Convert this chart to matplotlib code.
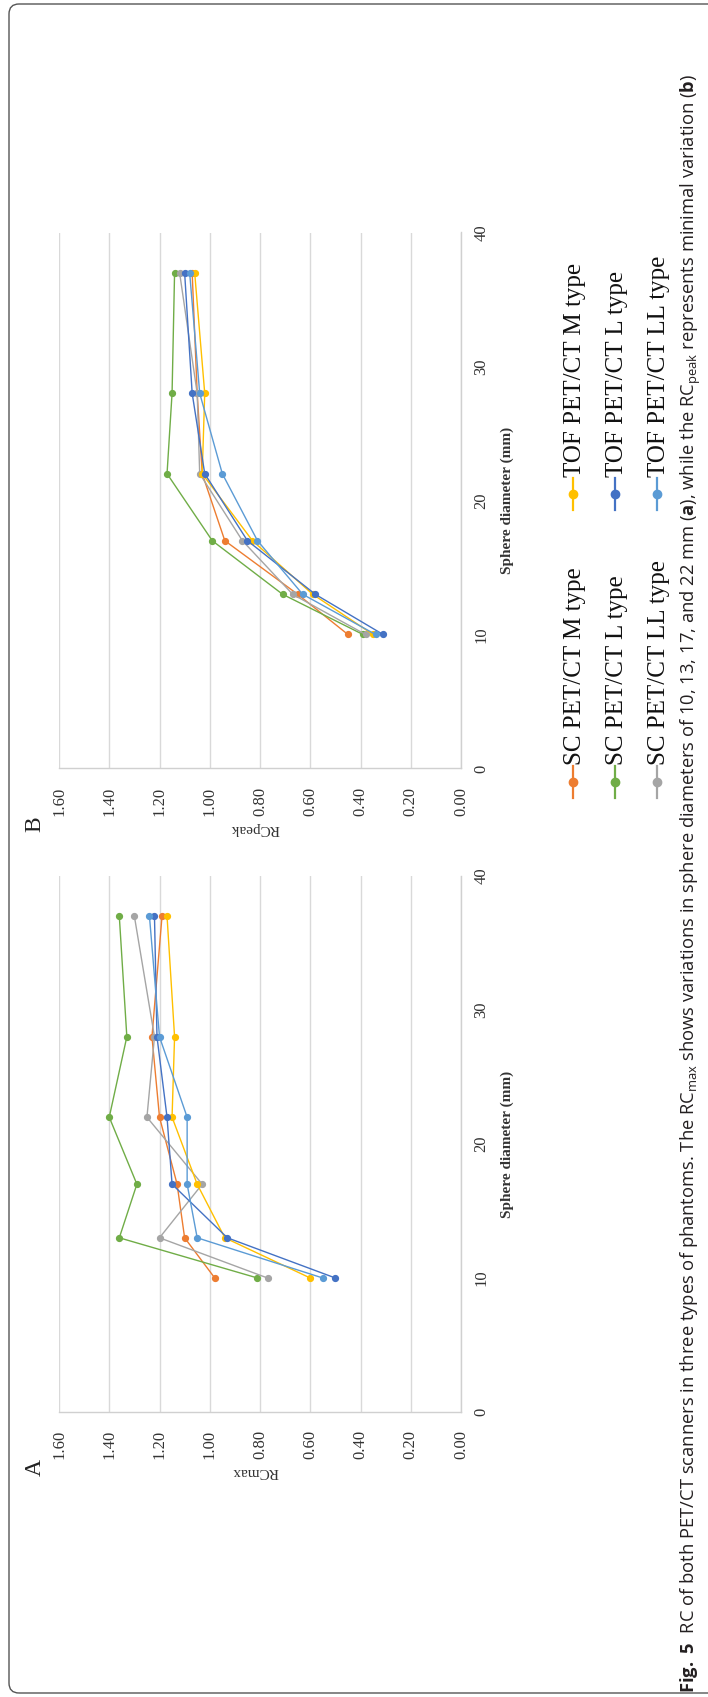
import matplotlib
matplotlib.use("Agg")
import matplotlib.pyplot as plt
from matplotlib.lines import Line2D
from matplotlib.patches import FancyBboxPatch

W, H = 708, 1697

# sphere diameters (mm)
diam = [10, 13, 17, 22, 28, 37]

# RCmax (panel A)
sc_m_max = [0.98, 1.10, 1.13, 1.20, 1.23, 1.19]
sc_l_max = [0.81, 1.36, 1.29, 1.40, 1.33, 1.36]
sc_ll_max = [0.77, 1.20, 1.03, 1.25, 1.22, 1.30]
tof_m_max = [0.60, 0.94, 1.05, 1.15, 1.14, 1.17]
tof_l_max = [0.50, 0.93, 1.15, 1.17, 1.21, 1.22]
tof_ll_max = [0.55, 1.05, 1.09, 1.09, 1.20, 1.24]

# RCpeak (panel B)
sc_m_peak = [0.45, 0.65, 0.94, 1.03, 1.05, 1.07]
sc_l_peak = [0.39, 0.71, 0.99, 1.17, 1.15, 1.14]
sc_ll_peak = [0.38, 0.67, 0.87, 1.04, 1.05, 1.12]
tof_m_peak = [0.35, 0.59, 0.83, 1.03, 1.02, 1.06]
tof_l_peak = [0.31, 0.58, 0.85, 1.02, 1.07, 1.10]
tof_ll_peak = [0.34, 0.63, 0.81, 0.95, 1.04, 1.08]

names = ["SC PET/CT M type", "SC PET/CT L type", "SC PET/CT LL type",
         "TOF PET/CT M type", "TOF PET/CT L type", "TOF PET/CT LL type"]
colors = ["#ED7D31", "#70AD47", "#A5A5A5", "#FFC000", "#4472C4", "#5B9BD5"]

rc_ticks = [0.0, 0.2, 0.4, 0.6, 0.8, 1.0, 1.2, 1.4, 1.6]
d_ticks = [0, 10, 20, 30, 40]

caption = (r"$\mathbf{Fig.\ 5}$  RC of both PET/CT scanners in three types of phantoms. "
           r"The RC$_{\mathrm{max}}$ shows variations in sphere diameters of 10, 13, 17, and 22 mm "
           r"($\mathbf{a}$), while the RC$_{\mathrm{peak}}$ represents minimal variation ($\mathbf{b}$)")

plt.rcParams['mathtext.fontset'] = 'custom'
plt.rcParams['mathtext.rm'] = 'Open Sans'
plt.rcParams['mathtext.it'] = 'Open Sans:italic'
plt.rcParams['mathtext.bf'] = 'Open Sans:bold'

SERIF = 'Liberation Serif'


def fx(x):
    return x / W


def fy(y):
    return 1 - y / H


fig = plt.figure(figsize=(W / 100, H / 100), dpi=100)

# rounded frame (right side lies past the crop)
frame = FancyBboxPatch((0.09, 0.04), 7.5, 16.89, boxstyle="round,pad=0,rounding_size=0.1",
                       transform=fig.dpi_scale_trans, fill=False, ec="#555555", lw=1.0)
fig.patches.append(frame)


def panel(top, bottom, series, ylabel, letter):
    ax = fig.add_axes([fx(59), fy(bottom), fx(461) - fx(59), fy(top) - fy(bottom)])
    for vals, c in zip(series, colors):
        ax.plot(vals, diam, color=c, lw=1.0, marker='o', ms=4.2, zorder=3)
    ax.set_xlim(1.6, 0)
    ax.set_ylim(0, 40)
    ax.set_xticks(rc_ticks)
    ax.set_xticklabels(["%.2f" % t for t in rc_ticks])
    ax.set_yticks(d_ticks)
    ax.yaxis.tick_right()
    ax.tick_params(axis='x', length=0, pad=13, labelrotation=90, labelsize=12,
                   labelcolor='#333333', labelfontfamily=SERIF)
    ax.tick_params(axis='y', length=0, pad=9, labelrotation=90, labelsize=12,
                   labelcolor='#333333', labelfontfamily=SERIF)
    for lab in ax.get_yticklabels():
        lab.set_va('center')
    ax.grid(axis='x', color='#d9d9d9', lw=1.0)
    for s in ['top', 'left']:
        ax.spines[s].set_visible(False)
    for s in ['bottom', 'right']:
        ax.spines[s].set_color('#d0d0d0')
        ax.spines[s].set_linewidth(1.0)
    ax.set_axisbelow(True)
    mid = (top + bottom) / 2
    fig.text(fx(507), fy(mid), "Sphere diameter (mm)", rotation=90, ha='center', va='center',
             fontsize=11, fontweight='bold', family=SERIF, color='#333333')
    fig.text(fx(255), fy(bottom + 60), ylabel, rotation=180, ha='center', va='center',
             fontsize=11, family=SERIF, color='#333333')
    fig.text(fx(35), fy(bottom + 56), letter, rotation=90, ha='center', va='center',
             fontsize=17, family=SERIF, color='#222222')
    return ax


panel(876, 1412, [sc_m_max, sc_l_max, sc_ll_max, tof_m_max, tof_l_max, tof_ll_max], "RCmax", "A")
panel(232.5, 768.5, [sc_m_peak, sc_l_peak, sc_ll_peak, tof_m_peak, tof_l_peak, tof_ll_peak], "RCpeak", "B")

# legend, drawn by hand because it sits rotated
rows_x = [573, 615, 657]
for i, (name, c) in enumerate(zip(names, colors)):
    x = rows_x[i % 3]
    ym = 782 if i < 3 else 494
    fig.add_artist(Line2D([fx(x), fx(x)], [fy(ym + 16), fy(ym - 16)], color=c, lw=1.6,
                          transform=fig.transFigure))
    fig.add_artist(Line2D([fx(x)], [fy(ym)], color=c, marker='o', ms=6,
                          transform=fig.transFigure))
    fig.text(fx(x + 2), fy(ym - 17), name, rotation=90, ha='center', va='bottom',
             fontsize=18, family=SERIF, color='#111111')

fig.text(fx(691), fy(1693), caption, rotation=90, ha='center', va='bottom',
         fontsize=13.2, family='Open Sans', color='#231f20')

fig.savefig("out.png", dpi=100)
